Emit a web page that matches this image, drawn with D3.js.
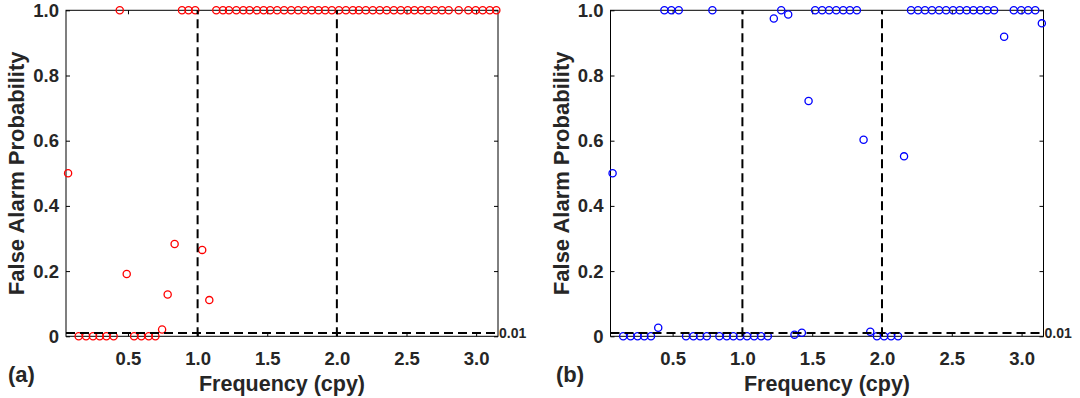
<!DOCTYPE html>
<html>
<head>
<meta charset="utf-8">
<script src="https://cdn.jsdelivr.net/npm/d3@7"></script>
<style>
  html, body { margin: 0; padding: 0; background: #fff; }
  svg text {
    font-family: "Liberation Sans", Arial, sans-serif;
    font-weight: bold;
    fill: #262626;
  }
</style>
</head>
<body>
<svg id="chart" width="1080" height="398"></svg>
<script>
(function() {

  // frequencies (cpy), shared by both panels
  var freqs = [0.070, 0.146, 0.199, 0.249, 0.297, 0.345, 0.397, 0.441, 0.491, 0.544,
               0.596, 0.649, 0.697, 0.745, 0.785, 0.835, 0.888, 0.935, 0.983, 1.033,
               1.084, 1.134, 1.182, 1.225, 1.278, 1.328, 1.373, 1.426, 1.474, 1.521,
               1.571, 1.621, 1.672, 1.722, 1.770, 1.820, 1.868, 1.916, 1.964, 2.015,
               2.065, 2.115, 2.158, 2.208, 2.258, 2.308, 2.358, 2.409, 2.459, 2.509,
               2.557, 2.607, 2.655, 2.705, 2.755, 2.803, 2.875, 2.944, 2.997, 3.047,
               3.098, 3.145];

  // false alarm probability, panel (a)
  var probA = [0.50, 0, 0, 0, 0, 0, 0, 1, 0.191, 0,
               0, 0, 0, 0.021, 0.128, 0.283, 1, 1, 1, 0.265,
               0.111, 1, 1, 1, 1, 1, 1, 1, 1, 1,
               1, 1, 1, 1, 1, 1, 1, 1, 1, 1,
               1, 1, 1, 1, 1, 1, 1, 1, 1, 1,
               1, 1, 1, 1, 1, 1, 1, 1, 1, 1,
               1, 1];

  // false alarm probability, panel (b)
  var probB = [0.50, 0, 0, 0, 0, 0, 0.026, 1, 1, 1,
               0, 0, 0, 0, 1, 0, 0, 0, 0, 0,
               0, 0, 0, 0.975, 1, 0.987, 0.005, 0.011, 0.722, 1,
               1, 1, 1, 1, 1, 1, 0.603, 0.014, 0, 0,
               0, 0, 0.552, 1, 1, 1, 1, 1, 1, 1,
               1, 1, 1, 1, 1, 1, 0.919, 1, 1, 1,
               1, 0.960];

  var xTicks = [0.5, 1.0, 1.5, 2.0, 2.5, 3.0];
  var xTickLabels = ["0.5", "1.0", "1.5", "2.0", "2.5", "3.0"];
  var yTicks = [0, 0.2, 0.4, 0.6, 0.8, 1.0];
  var yTickLabels = ["0", "0.2", "0.4", "0.6", "0.8", "1.0"];
  var markFreqs = [1, 2];
  var threshold = 0.01;
  var thresholdLabel = "0.01";
  var panelLabels = ["(a)", "(b)"];
  var xTitle = "Frequency (cpy)";
  var yTitle = "False Alarm Probability";

  var svg = d3.select("#chart");

  var top = 10.3, bottom = 336.3;
  var panels = [
    { left: 66,    right: 498,    values: probA, color: "#ff0000", label: panelLabels[0], labelX: 8 },
    { left: 610.5, right: 1043.5, values: probB, color: "#0000ff", label: panelLabels[1], labelX: 556 }
  ];

  panels.forEach(function(p) {
    var x = d3.scaleLinear().domain([0.055, 3.157]).range([p.left, p.right]);
    var y = d3.scaleLinear().domain([0, 1]).range([bottom, top]);
    var g = svg.append("g");

    // box around the plot area
    g.append("rect")
      .attr("x", p.left).attr("y", top)
      .attr("width", p.right - p.left).attr("height", bottom - top)
      .attr("fill", "none").attr("stroke", "#000").attr("stroke-width", 1);

    // axes: ticks point inward on all four sides
    var ax = g.append("g").attr("transform", "translate(0," + bottom + ")")
      .call(d3.axisBottom(x).tickValues(xTicks)
        .tickFormat(function(d, i) { return xTickLabels[i]; })
        .tickSizeInner(-4).tickSizeOuter(0).tickPadding(16));
    var axTop = g.append("g").attr("transform", "translate(0," + top + ")")
      .call(d3.axisTop(x).tickValues(xTicks).tickFormat("")
        .tickSizeInner(-4).tickSizeOuter(0));
    var ay = g.append("g").attr("transform", "translate(" + p.left + ",0)")
      .call(d3.axisLeft(y).tickValues(yTicks)
        .tickFormat(function(d, i) { return yTickLabels[i]; })
        .tickSizeInner(-4).tickSizeOuter(0).tickPadding(7));
    var ayRight = g.append("g").attr("transform", "translate(" + p.right + ",0)")
      .call(d3.axisRight(y).tickValues(yTicks).tickFormat("")
        .tickSizeInner(-4).tickSizeOuter(0));

    [ax, axTop, ay, ayRight].forEach(function(a) {
      a.select(".domain").remove();
      a.selectAll(".tick line").attr("stroke", "#000");
      a.selectAll(".tick text")
        .style("font-family", "'Liberation Sans', Arial, sans-serif")
        .style("font-weight", "bold")
        .style("font-size", "18.5px")
        .attr("fill", "#262626");
    });

    // data markers
    g.append("g").selectAll("circle")
      .data(freqs.map(function(f, i) { return { f: f, v: p.values[i] }; }))
      .enter().append("circle")
      .attr("cx", function(d) { return x(d.f); })
      .attr("cy", function(d) { return y(d.v); })
      .attr("r", 3.6)
      .attr("fill", "none")
      .attr("stroke", p.color)
      .attr("stroke-width", 1.3);

    // dashed reference lines
    g.append("line")
      .attr("x1", p.left).attr("x2", p.right)
      .attr("y1", y(threshold)).attr("y2", y(threshold))
      .attr("stroke", "#000").attr("stroke-width", 2)
      .attr("stroke-dasharray", "9,5");
    g.selectAll("line.vmark")
      .data(markFreqs)
      .enter().append("line")
      .attr("class", "vmark")
      .attr("x1", function(d) { return x(d); })
      .attr("x2", function(d) { return x(d); })
      .attr("y1", y(0)).attr("y2", y(1))
      .attr("stroke", "#000").attr("stroke-width", 2)
      .attr("stroke-dasharray", "9,5");

    g.append("text")
      .attr("x", p.right + 1).attr("y", y(threshold) + 5)
      .style("font-size", "14px")
      .text(thresholdLabel);

    // titles
    g.append("text")
      .attr("x", (p.left + p.right) / 2).attr("y", 391)
      .attr("text-anchor", "middle")
      .style("font-size", "21.5px")
      .text(xTitle);
    g.append("text")
      .attr("transform", "translate(" + (p.left - 42) + "," + ((top + bottom) / 2) + ") rotate(-90)")
      .attr("text-anchor", "middle")
      .style("font-size", "22px")
      .text(yTitle);

    g.append("text")
      .attr("x", p.labelX).attr("y", 382)
      .style("font-size", "22px")
      .text(p.label);
  });

}());
</script>
</body>
</html>
